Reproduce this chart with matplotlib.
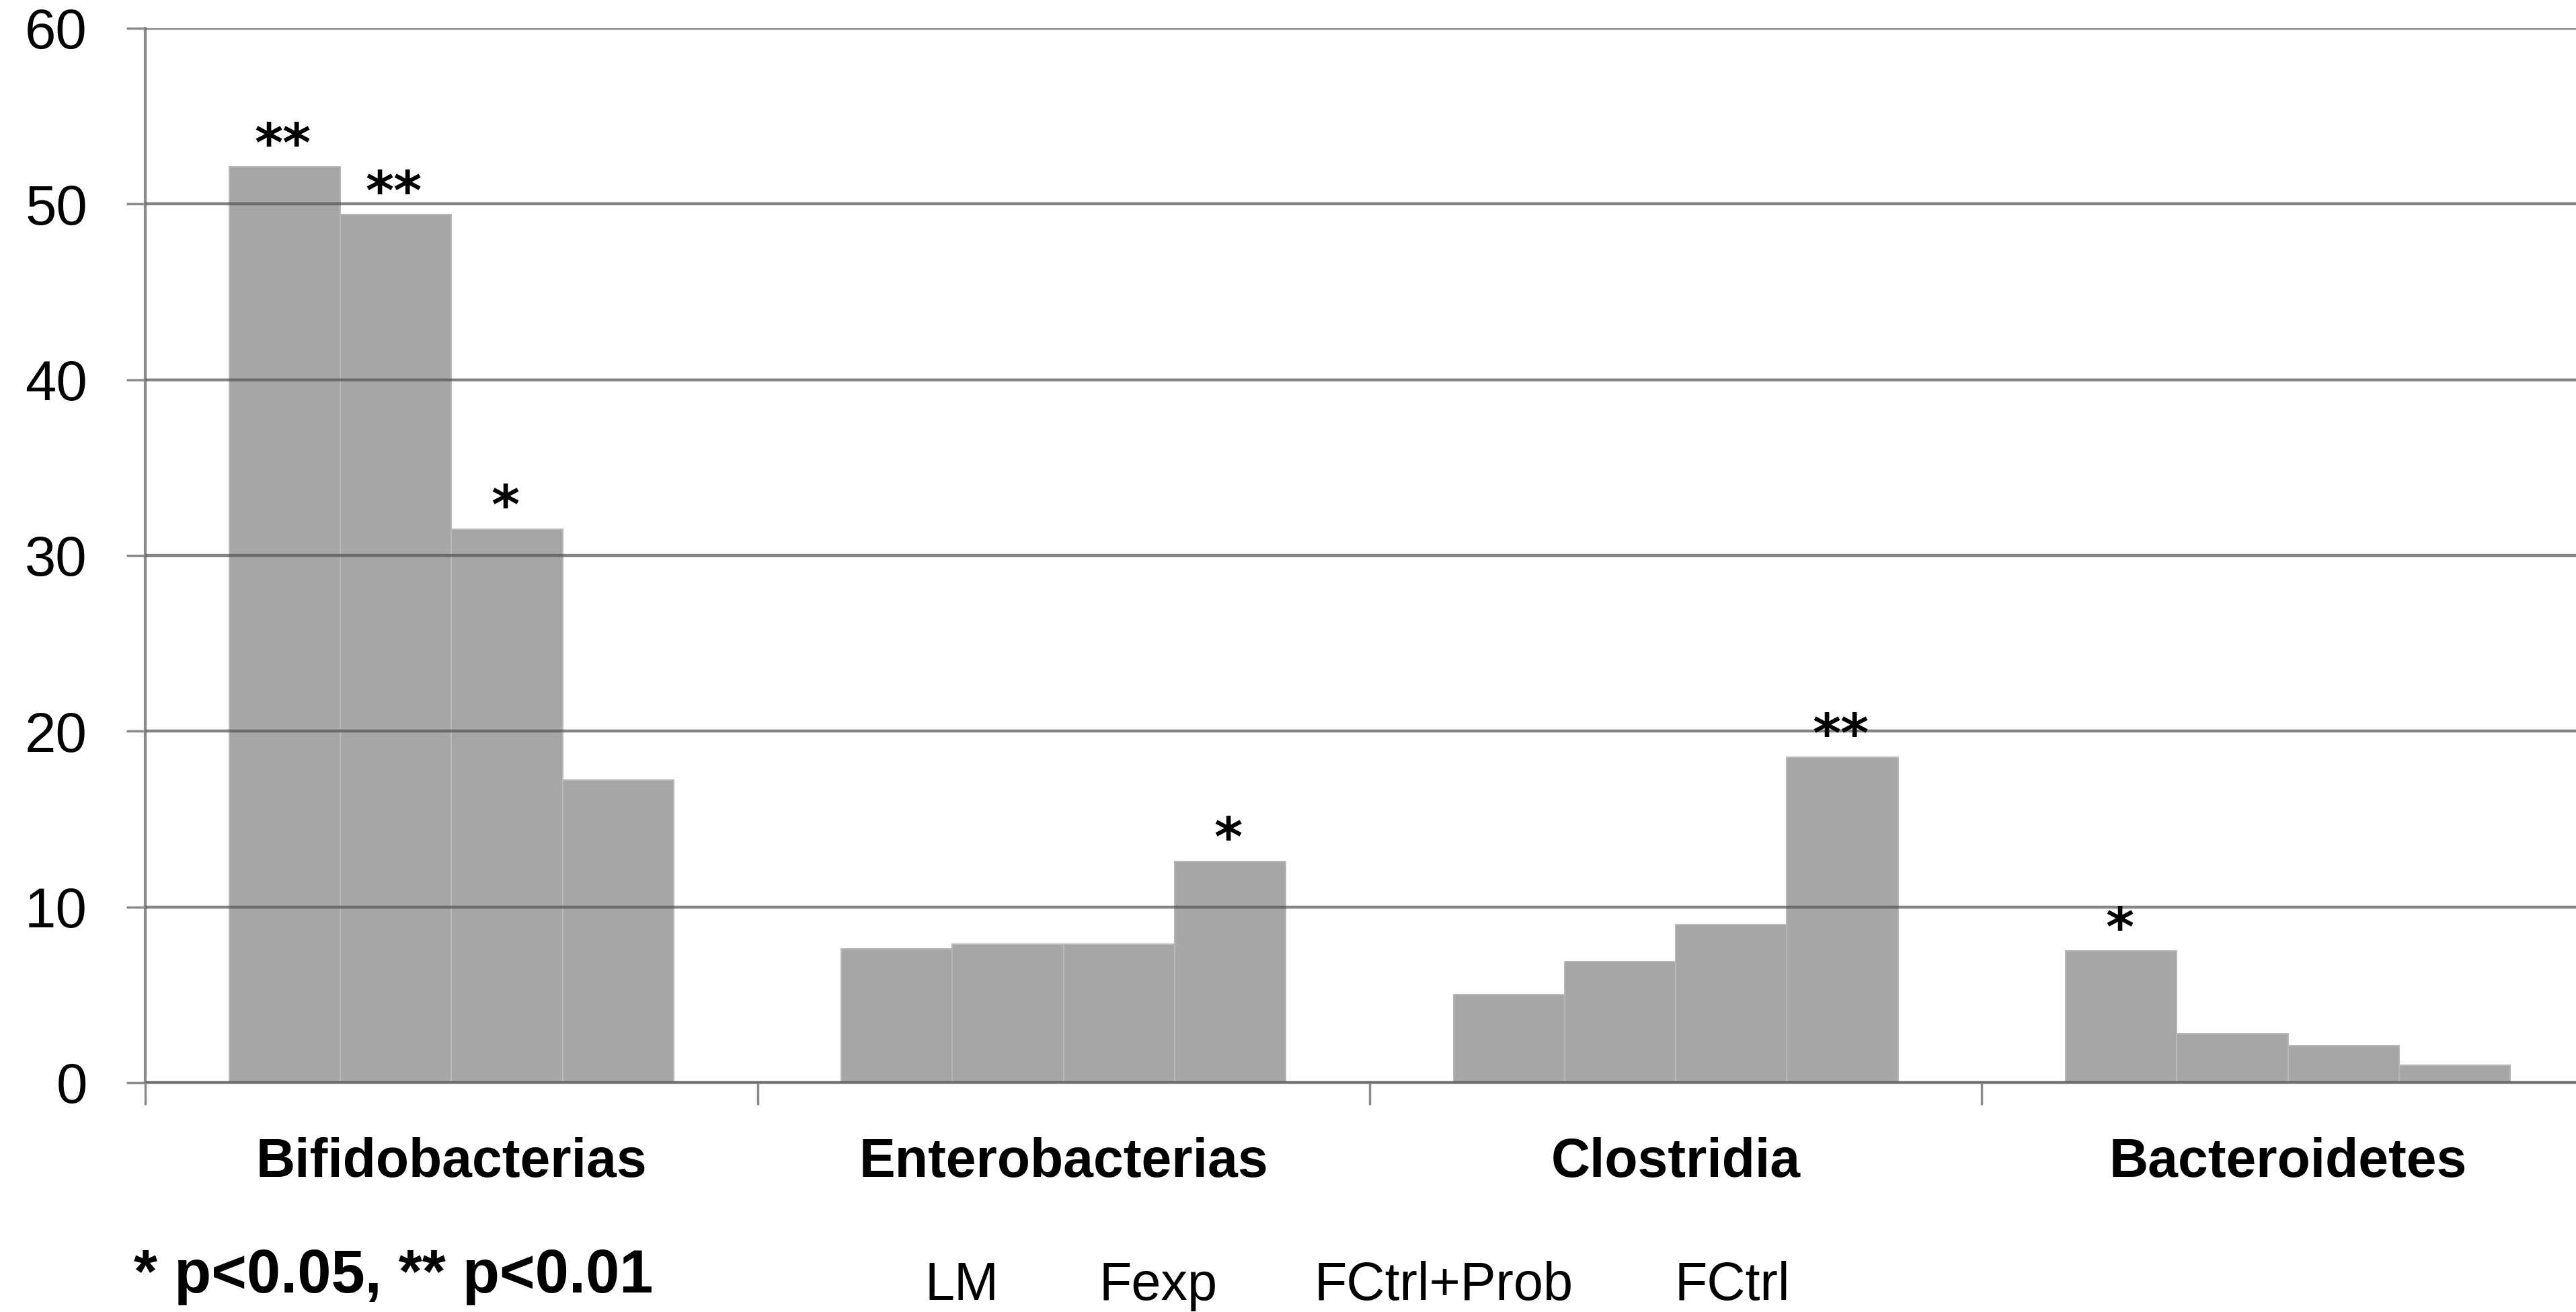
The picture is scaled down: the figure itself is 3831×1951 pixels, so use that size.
import matplotlib
matplotlib.use('Agg')
import matplotlib.pyplot as plt
import numpy as np

plt.rcParams['font.family'] = ['Liberation Sans', 'DejaVu Sans']

# data
groups = ['Bifidobacterias', 'Enterobacterias', 'Clostridia', 'Bacteroidetes']
series = ['LM', 'Fexp', 'FCtrl+Prob', 'FCtrl']
lm = [52.1, 7.6, 5.0, 7.5]
fexp = [49.4, 7.9, 6.9, 2.8]
fctrl_prob = [31.5, 7.9, 9.0, 2.1]
fctrl = [17.2, 12.6, 18.5, 1.0]
sig_lm = ['**', '', '', '*']
sig_fexp = ['**', '', '', '']
sig_fctrl_prob = ['*', '', '', '']
sig_fctrl = ['', '*', '**', '']
yticks = [0, 10, 20, 30, 40, 50, 60]
note = '* p<0.05, ** p<0.01'

values = [lm, fexp, fctrl_prob, fctrl]
stars = [sig_lm, sig_fexp, sig_fctrl_prob, sig_fctrl]

bar_color = '#a6a6a6'
grid_color = '#8a8a8a'

fig = plt.figure(figsize=(38.31, 19.51), dpi=100)
ax = fig.add_axes([0.0564, 0.1748, 0.9506, 0.8037])

x = np.arange(len(groups))
w = 0.1815
for k, vals in enumerate(values):
    pos = x + (k - 1.5) * w
    ax.bar(pos, vals, width=w, color=bar_color, edgecolor='#b8b8b8', linewidth=1.5, zorder=1)
    for xi, v, s in zip(pos, vals, stars[k]):
        if s:
            ax.annotate(s, (xi, v), xytext=(-2, 6), textcoords='offset points',
                        ha='center', va='baseline', fontsize=58, fontweight='bold',
                        family='DejaVu Sans')

ax.set_xlim(-0.5, 3.5)
ax.set_ylim(0, 60)
ax.set_yticks(yticks)
ax.set_yticklabels([str(t) for t in yticks], fontsize=60)
ax.tick_params(axis='y', length=20, width=2.5, color=grid_color, pad=42)

ax.set_xticks(np.arange(-0.5, 4.0, 1.0))
ax.set_xticklabels([])
ax.tick_params(axis='x', which='major', length=24, width=2.5, color=grid_color)
ax.set_xticks(x, minor=True)
ax.set_xticklabels(groups, minor=True, fontsize=58, fontweight='bold')
ax.tick_params(axis='x', which='minor', length=0, pad=58)

ax.set_axisbelow(False)
ax.yaxis.grid(True, color='#555555', alpha=0.72, linewidth=3.2)
for side in ['top', 'right']:
    ax.spines[side].set_visible(False)
for side in ['left', 'bottom']:
    ax.spines[side].set_color(grid_color)
    ax.spines[side].set_linewidth(3.0)

fig.text(0.052, 0.0149, note, fontsize=65, fontweight='bold', va='baseline', ha='left')
legend_x = [0.3733, 0.4497, 0.5604, 0.6724]
for lx, name in zip(legend_x, series):
    fig.text(lx, 0.0092, name, fontsize=57, va='baseline', ha='center')

fig.savefig('out.png', dpi=100)
